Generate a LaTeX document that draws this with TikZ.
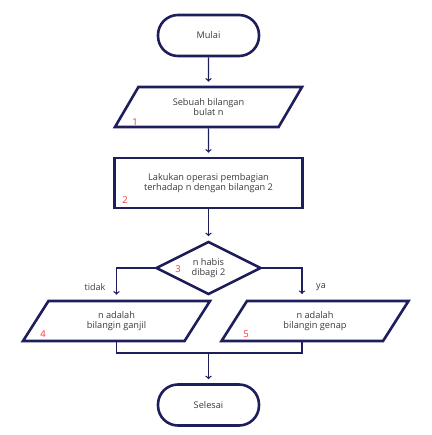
\documentclass[tikz,border=0pt]{standalone}
\usepackage{fontspec}
\setmainfont{Open Sans}
\usetikzlibrary{shapes.geometric,arrows}

\definecolor{navy}{HTML}{1E1E5C}
\definecolor{numred}{HTML}{EE3B3B}
\definecolor{txt}{HTML}{3A3A3A}

\begin{document}
\begin{tikzpicture}[x=1pt,y=-1pt]
\tikzstyle{box} = [draw=navy,line width=2.6pt,text=txt,align=center,font=\fontsize{9.2}{10.5}\selectfont]
\tikzstyle{term} = [box,rounded corners=20pt,minimum width=101pt,minimum height=41pt]
\tikzstyle{io} = [box,trapezium,trapezium left angle=46,trapezium right angle=134,trapezium stretches body,minimum width=187pt,minimum height=40pt]
\tikzstyle{proc} = [box,rectangle,minimum width=188pt,minimum height=50pt]
\tikzstyle{cond} = [box,diamond,aspect=2,minimum width=105pt,minimum height=53pt,inner sep=0pt]
\tikzstyle{num} = [text=numred,font=\fontsize{9.5}{10.5}\selectfont]
\tikzstyle{lbl} = [text=txt,font=\fontsize{9}{10}\selectfont]
\tikzstyle{flow} = [->,draw=navy,line width=1.3pt,shorten >=4pt]
\tikzstyle{line} = [draw=navy,line width=1.3pt]

\useasboundingbox (0,0) rectangle (431,435);

% blocks
\node[term] (mulai) at (208.5, 35.5) {Mulai};
\node[io] (in1) at (208.5, 107) {Sebuah bilangan\\bulat n};
\node[proc] (op2) at (208.5, 183) {Lakukan operasi pembagian\\terhadap n dengan bilangan 2};
\node[cond] (cek3) at (208.5, 268) {n habis\\dibagi 2};
\node[io] (out4) at (116.5, 321) {n adalah\\bilangin ganjil};
\node[io] (out5) at (315, 321) {n adalah\\bilangin genap};
\node[term] (selesai) at (208.5, 405) {Selesai};

% numbers
\node[num] (n1) at (135, 122) {1};
\node[num] (n2) at (125, 200) {2};
\node[num] (n3) at (178, 269) {3};
\node[num] (n4) at (43, 334) {4};
\node[num] (n5) at (246, 334) {5};

\node[lbl] (tidak) at (95, 287) {tidak};
\node[lbl] (ya) at (321, 287) {ya};

\coordinate (ya5) at (302, 298);
\coordinate (bawah5) at (302, 341);
\coordinate (gabung) at (208.5, 353);

% connectors
\draw[flow] (mulai.south) -- (in1.north);
\draw[flow] (in1.south) -- (op2.north);
\draw[flow] (op2.south) -- (cek3.north);
\draw[flow,shorten >=5pt] (cek3.west) -| (out4.north);
\draw[flow] (cek3.east) -| (ya5);
\draw[line] (out4.south) |- (gabung) -| (bawah5);
\draw[flow] (gabung) -- (selesai.north);

\end{tikzpicture}
\end{document}
